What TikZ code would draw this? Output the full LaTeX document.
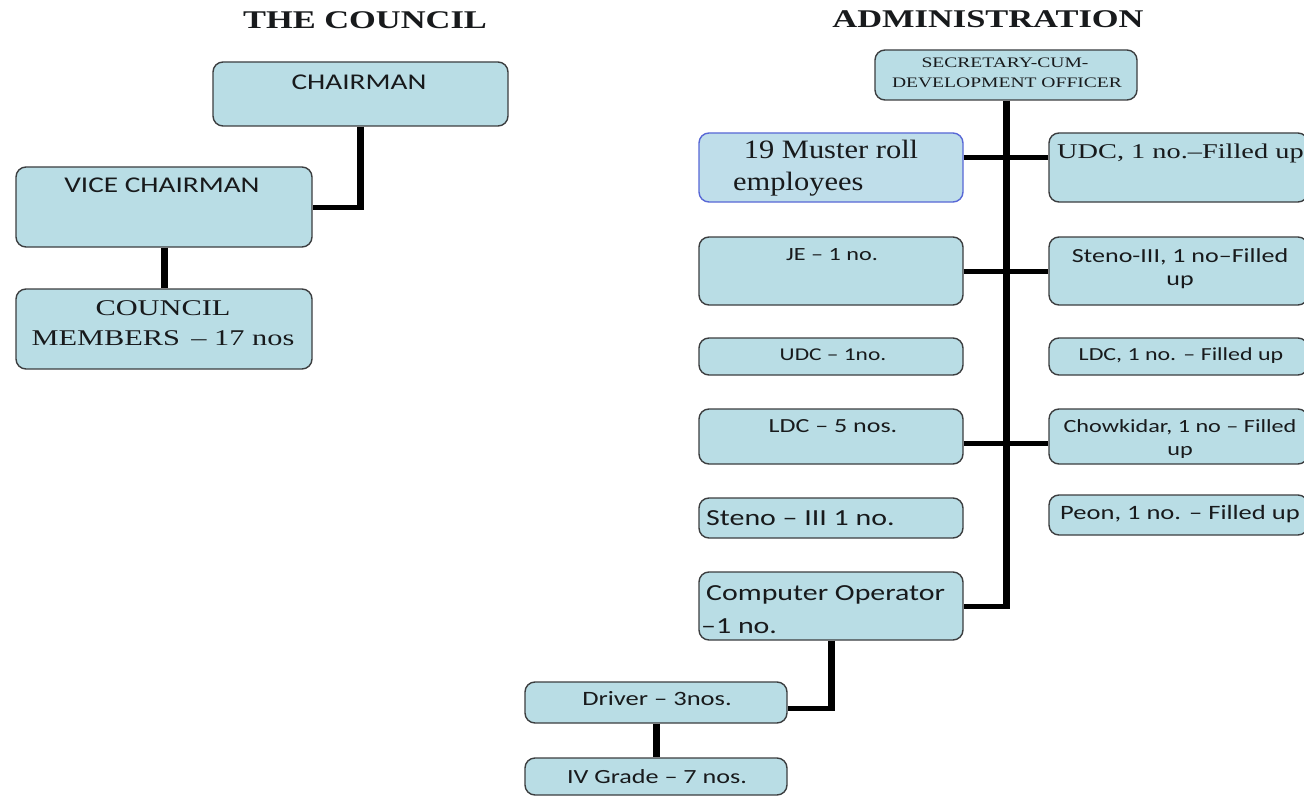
\documentclass[tikz,border=0pt]{standalone}
\usepackage{fontspec}
\setmainfont{Liberation Serif}
% widened faces: the chart is set in broad lettering
\newfontfamily\sansw[FakeStretch=1.3]{Carlito}
\newfontfamily\serifw[FakeStretch=1.35]{Liberation Serif}
\newfontfamily\serifm[FakeStretch=1.15]{Liberation Serif}
\definecolor{boxfill}{RGB}{185,221,229}
\definecolor{boxline}{RGB}{60,62,64}
\definecolor{blueline}{RGB}{88,104,214}
\definecolor{bluefill}{RGB}{191,222,234}
\definecolor{inkc}{RGB}{24,26,28}
\tikzset{
  orgbox/.style={draw=boxline, fill=boxfill, line width=1.4pt, rounded corners=10pt, inner sep=0pt},
  bluebox/.style={orgbox, draw=blueline, fill=bluefill},
  vlink/.style={draw=black, line width=7pt},
  hlink/.style={draw=black, line width=5pt},
  lbl/.style={inner sep=0pt, anchor=base, text=inkc},
  lblw/.style={inner sep=0pt, anchor=base west, text=inkc},
}
% box from its corner points: name, x1, y1, x2, y2, style
\newcommand\orgnode[6]{%
  \node[#6, minimum width={(#4-#2)*1pt}, minimum height={(#5-#3)*1pt}] (#1) at ({(#2+#4)/2},{(#3+#5)/2}) {};}
\newcommand\fs[1]{\fontsize{#1}{#1}\selectfont}
\begin{document}
\begin{tikzpicture}[x=1pt, y=-1pt]
\clip (0,0) rectangle (1304,797);
\fill[white] (0,0) rectangle (1304,797);

% ---- headings
\node[lbl, font=\serifw\bfseries\fs{25.5}] (tcouncil) at (365,29) {THE COUNCIL};
\node[lbl, font=\serifw\bfseries\fs{25.5}] (tadmin) at (988,28) {ADMINISTRATION};

% ---- the council
\orgnode{chair}{213}{62}{508}{126}{orgbox}
\orgnode{vice}{16}{167}{312}{247}{orgbox}
\orgnode{members}{16}{289}{312}{369}{orgbox}
\node[lbl, font=\sansw\fs{22.5}] (tchair) at (359,90) {CHAIRMAN};
\node[lbl, font=\sansw\fs{22.5}] (tvice) at (162,193) {VICE CHAIRMAN};
\node[lbl, font=\serifw\fs{22.5}] (tmem1) at (163,315) {COUNCIL};
\node[lbl, font=\serifw\fs{22.5}] (tmem2) at (163,345) {MEMBERS \,– 17 nos};

% chairman -> vice chairman -> members
\coordinate (c1) at (chair.south |- vice.east);
\draw[vlink] (chair.south) -- ([yshift=-2.5pt]c1);
\draw[hlink] (c1) -- (vice.east);
\draw[vlink] (vice.south) -- (members.north);

% ---- administration
\orgnode{sec}{875}{50}{1137}{100}{orgbox}
\node[lbl, font=\serifw\fs{14.5}] (tsec1) at (1005,68) {SECRETARY-CUM-};
\node[lbl, font=\serifw\fs{14.5}] (tsec2) at (1007,88) {DEVELOPMENT OFFICER};

\orgnode{muster}{699}{133}{963}{202}{bluebox}
\orgnode{udcf}{1049}{133}{1308}{202}{orgbox}
\orgnode{je}{699}{237}{963}{305}{orgbox}
\orgnode{stenof}{1049}{237}{1308}{305}{orgbox}
\orgnode{udc}{699}{338}{963}{375}{orgbox}
\orgnode{ldcf}{1049}{338}{1308}{375}{orgbox}
\orgnode{ldc}{699}{409}{963}{464}{orgbox}
\orgnode{chow}{1049}{409}{1308}{464}{orgbox}
\orgnode{steno}{699}{498}{963}{538}{orgbox}
\orgnode{peon}{1049}{495}{1308}{535}{orgbox}
\orgnode{comp}{699}{572}{963}{640}{orgbox}
\orgnode{driver}{525}{682}{787}{723}{orgbox}
\orgnode{ivg}{525}{758}{787}{795}{orgbox}

\node[lbl, font=\serifm\fs{26.5}] (tmus1) at (831,159) {19 Muster roll};
\node[lblw, font=\serifm\fs{26.5}] (tmus2) at (733,190) {employees};
\node[lblw, font=\serifw\fs{21}] (tudcf) at (1057,159) {UDC, 1 no.–Filled up};
\node[lbl, font=\sansw\fs{18.6}] (tje) at (832,260) {JE – 1 no.};
\node[lbl, font=\sansw\fs{20}] (tsten1) at (1180,262) {Steno-III, 1 no–Filled};
\node[lbl, font=\sansw\fs{20}] (tsten2) at (1180,285) {up};
\node[lbl, font=\sansw\fs{18}] (tudc) at (833,360) {UDC – 1no.};
\node[lbl, font=\sansw\fs{18.4}] (tldcf) at (1181,360) {LDC, 1 no. – Filled up};
\node[lbl, font=\sansw\fs{20}] (tldc) at (833,432) {LDC – 5 nos.};
\node[lbl, font=\sansw\fs{18.6}] (tchow1) at (1180,432) {Chowkidar, 1 no – Filled};
\node[lbl, font=\sansw\fs{18.6}] (tchow2) at (1180,455) {up};
\node[lblw, font=\sansw\fs{23}] (tsteno) at (706,525) {Steno – III 1 no.};
\node[lbl, font=\sansw\fs{20.4}] (tpeon) at (1180,519) {Peon, 1 no. – Filled up};
\node[lblw, font=\sansw\fs{23}] (tcomp1) at (706,600) {Computer Operator};
\node[lblw, font=\sansw\fs{23}] (tcomp2) at (701,633) {–1 no.};
\node[lbl, font=\sansw\fs{20.4}] (tdriver) at (657,705) {Driver – 3nos.};
\node[lbl, font=\sansw\fs{20.1}] (tivg) at (657,783) {IV Grade – 7 nos.};

% branch heights along the main trunk
\coordinate (b1) at (1006,158);
\coordinate (b3) at (1006,443);
\coordinate (t0) at (sec.south |- comp.east);
\coordinate (d1) at (831,708);

% main trunk and its branches
\draw[vlink] (sec.south) -- ([yshift=-2.5pt]t0);
\draw[hlink] (t0) -- (comp.east);
\draw[hlink] (muster.east |- b1) -- (udcf.west |- b1);
\draw[hlink] (je.east) -- (stenof.west);
\draw[hlink] (ldc.east |- b3) -- (chow.west |- b3);
% operator -> driver -> grade IV
\draw[vlink] (comp.south) -- ([yshift=-2.5pt]comp.south |- d1);
\draw[hlink] (comp.south |- d1) -- (driver.east |- d1);
\draw[vlink] (driver.south) -- (ivg.north);
\end{tikzpicture}
\end{document}
